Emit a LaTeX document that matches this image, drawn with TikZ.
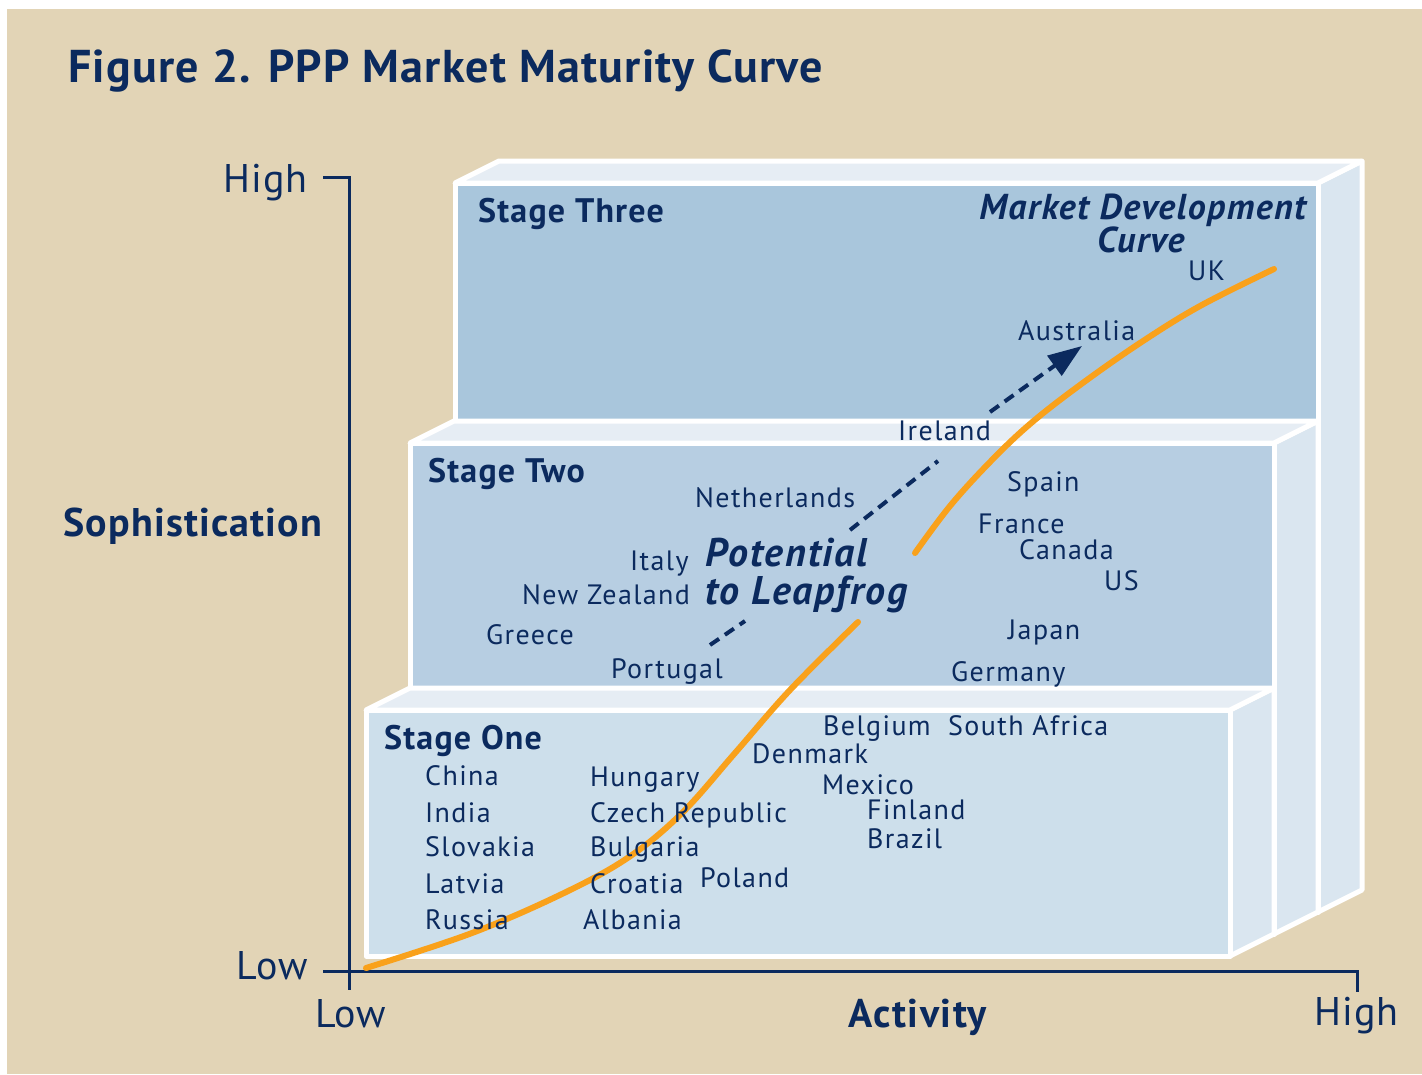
\documentclass[tikz,border=0pt]{standalone}
\usepackage{fontspec}
\setmainfont{PT Sans}
\usetikzlibrary{arrows.meta}
\definecolor{navy}{HTML}{0B2A5E}
\definecolor{beige}{HTML}{E2D4B6}
\definecolor{orangec}{HTML}{F9A11B}
\definecolor{sthree}{HTML}{A9C6DC}
\definecolor{stwo}{HTML}{B7CEE2}
\definecolor{sone}{HTML}{CDDFEB}
\definecolor{topface}{HTML}{E6EDF4}
\definecolor{sideface}{HTML}{DAE6F0}
\newcommand\stagebox[5]{%
  \filldraw[fill=sideface, draw=white, line width=5pt, line join=round]
    (#3,#2) -- ({#3+44},{#2-22}) -- ({#3+44},{#4-22}) -- (#3,#4) -- cycle;
  \filldraw[fill=topface, draw=white, line width=5pt, line join=round]
    (#1,#2) -- ({#1+44},{#2-22}) -- ({#3+44},{#2-22}) -- (#3,#2) -- cycle;
  \filldraw[fill=#5, draw=white, line width=5pt, line join=round]
    (#1,#2) rectangle (#3,#4);
}
\newcommand\ls[1]{\addfontfeatures{LetterSpace=#1}}
\tikzset{
  lbl/.style={text=navy, inner sep=0pt, anchor=base west, font=\fontsize{28}{30}\selectfont\ls{5}},
  stagelbl/.style={text=navy, inner sep=0pt, anchor=base west, font=\fontsize{34}{36}\selectfont\bfseries\ls{3.5}},
  axlbl/.style={text=navy, inner sep=0pt, font=\fontsize{40}{42}\selectfont\ls{3}},
  emph/.style={text=navy, inner sep=0pt, font=\fontsize{40}{42}\selectfont\bfseries\itshape\ls{4.5}},
  axis/.style={draw=navy, line width=3pt},
  curve/.style={draw=orangec, line width=6pt, line cap=round},
  leap/.style={draw=navy, line width=4pt, dash pattern=on 11pt off 7pt},
}
\begin{document}
\begin{tikzpicture}[x=1pt,y=-1pt]
\path[use as bounding box] (0,0) rectangle (1422,1074);
\fill[white] (0,0) rectangle (1422,1074);
\fill[beige] (7,9) rectangle (1422,1074);

% title
\node[text=navy, inner sep=0pt, anchor=base west, font=\fontsize{46}{48}\selectfont\bfseries\ls{2.8}] (title) at (68,82) {Figure 2. PPP Market Maturity Curve};

% stacked boxes
\stagebox{455}{183}{1318}{912}{sthree}
\stagebox{410}{443}{1274}{934}{stwo}
\stagebox{366}{710}{1230}{956}{sone}

% axes
\coordinate (ytop) at (349,177);
\coordinate (ytick) at (323,177);
\coordinate (ybot) at (349,990);
\coordinate (xl) at (323,971);
\coordinate (xr) at (1357,971);
\coordinate (xrt) at (1357,992);
\draw[axis] (ytick) -- (ytop) -- (ybot);
\draw[axis] (xl) -- (xr) -- (xrt);

\node[axlbl, anchor=base east] (yhigh) at (308,192) {High};
\node[axlbl, anchor=base east] (ylow) at (308,979) {Low};
\node[axlbl, anchor=base west, font=\fontsize{40}{42}\selectfont\bfseries\ls{3}] (soph) at (63,536) {Sophistication};
\node[axlbl, anchor=base west] (xlow) at (315,1027) {Low};
\node[axlbl, anchor=base west, font=\fontsize{40}{42}\selectfont\bfseries\ls{4}] (act) at (848,1027) {Activity};
\node[axlbl, anchor=base west] (xhigh) at (1314,1025) {High};

% orange curve
\draw[curve] plot[smooth, tension=0.6] coordinates {(366,968) (472,933) (564,893) (629,857) (682,813) (735,753) (790,690) (858,622)};
\draw[curve] plot[smooth, tension=0.6] coordinates {(915,553) (950,506) (990,462) (1030,424) (1080,385) (1140,343) (1200,306) (1274,269)};

% dashed leapfrog arrow
\coordinate (d1a) at (710,645);
\coordinate (d1b) at (745,621);
\coordinate (d2a) at (850,530);
\coordinate (d2b) at (938,461);
\coordinate (d3a) at (990,412);
\coordinate (d3b) at (1082,346);
\draw[leap] (d1a) -- (d1b);
\draw[leap] (d2a) -- (d2b);
\draw[leap, -{Triangle[length=34pt,width=24pt]}] (d3a) -- (d3b);

% stage labels
\node[stagelbl] (s3) at (478,222) {Stage Three};
\node[stagelbl] (s2) at (428,482) {Stage Two};
\node[stagelbl] (s1) at (384,749) {Stage One};

\node[text=navy, inner sep=0pt, anchor=base east, font=\fontsize{36}{38}\selectfont\bfseries\itshape\ls{4}] (mdc) at (1306,219) {Market Development};
\node[text=navy, inner sep=0pt, anchor=base west, font=\fontsize{36}{38}\selectfont\bfseries\itshape\ls{4}] (mdc2) at (1097,252) {Curve};
\node[emph, anchor=base west] (pot) at (705,566) {Potential};
\node[emph, anchor=base west] (leapf) at (705,604) {to Leapfrog};

% countries
\node[lbl] (uk) at (1188,280) {UK};
\node[lbl] (aus) at (1018,340) {Australia};
\node[lbl] (ire) at (898,440) {Ireland};
\node[lbl] (spa) at (1007,491) {Spain};
\node[lbl] (net) at (695,507) {Netherlands};
\node[lbl] (fra) at (978,533) {France};
\node[lbl] (can) at (1019,559) {Canada};
\node[lbl] (ita) at (630,570) {Italy};
\node[lbl] (us) at (1104,590) {US};
\node[lbl] (nz) at (522,604) {New Zealand};
\node[lbl] (gre) at (486,644) {Greece};
\node[lbl] (jap) at (1008,639) {Japan};
\node[lbl] (por) at (611,678) {Portugal};
\node[lbl] (ger) at (951,681) {Germany};
\node[lbl] (bel) at (823,735) {Belgium};
\node[lbl] (saf) at (948,735) {South Africa};
\node[lbl] (den) at (752,763) {Denmark};
\node[lbl] (mex) at (822,794) {Mexico};
\node[lbl] (fin) at (867,819) {Finland};
\node[lbl] (bra) at (867,848) {Brazil};
\node[lbl] (chi) at (425,785) {China};
\node[lbl] (ind) at (425,822) {India};
\node[lbl] (slo) at (425,856) {Slovakia};
\node[lbl] (lat) at (425,893) {Latvia};
\node[lbl] (rus) at (425,929) {Russia};
\node[lbl] (hun) at (590,786) {Hungary};
\node[lbl] (cze) at (590,822) {Czech Republic};
\node[lbl] (bul) at (590,856) {Bulgaria};
\node[lbl] (cro) at (590,893) {Croatia};
\node[lbl] (pol) at (700,887) {Poland};
\node[lbl] (alb) at (583,929) {Albania};
\end{tikzpicture}
\end{document}
